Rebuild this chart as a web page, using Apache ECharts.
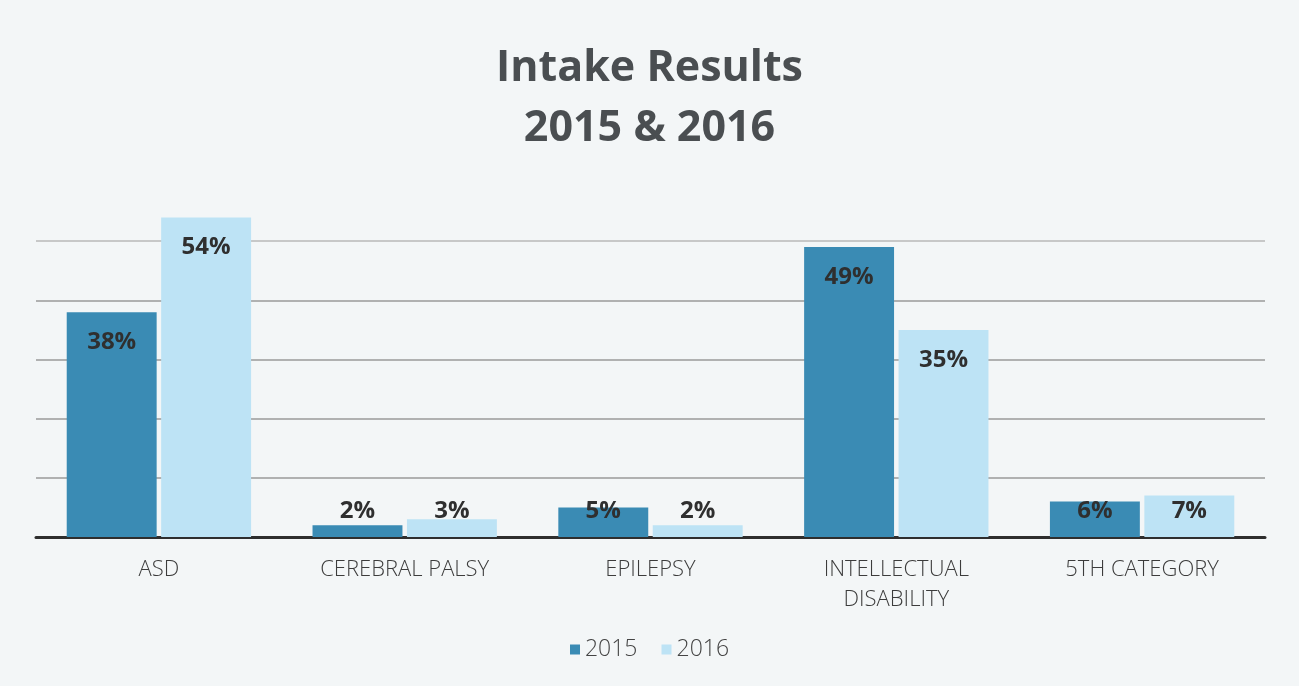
<!DOCTYPE html>
<html>
<head>
<meta charset="utf-8">
<title>Intake Results 2015 & 2016</title>
<script src="https://cdn.jsdelivr.net/npm/echarts@6/dist/echarts.min.js"></script>
<style>
  html, body { margin: 0; padding: 0; background: #f3f6f7; }
  #chart { width: 1299px; height: 686px; }
</style>
</head>
<body>
<div id="chart"></div>
<script>
var categories = ["ASD", "CEREBRAL PALSY", "EPILEPSY", "INTELLECTUAL\nDISABILITY", "5TH CATEGORY"];
var seriesNames = ["2015", "2016"];
var values2015 = [38, 2, 5, 49, 6];
var values2016 = [54, 3, 2, 35, 7];
var yTicks = [0, 10, 20, 30, 40, 50, 60];

// small bars get their label just above the axis, tall ones inside the top
function withLabels(values) {
  return values.map(function (v) {
    return {
      value: v,
      label: v >= 10
        ? { position: "insideTop", distance: 18 }
        : { position: "insideBottom", distance: 14 }
    };
  });
}

var chart = echarts.init(document.getElementById("chart"));
chart.setOption({
  animation: false,
  backgroundColor: "#f3f6f7",
  title: {
    text: "Intake Results\n2015 & 2016",
    left: "center",
    top: 34,
    textStyle: {
      fontFamily: "Open Sans",
      fontWeight: "bold",
      fontSize: 43,
      lineHeight: 60,
      color: "#4a4e51"
    }
  },
  legend: {
    data: seriesNames,
    bottom: 20,
    left: "center",
    icon: "rect",
    itemWidth: 10,
    itemHeight: 10,
    itemGap: 24,
    textStyle: { fontFamily: "Open Sans", fontWeight: 300, fontSize: 23, color: "#444" }
  },
  grid: { left: 36, right: 34, top: 182, bottom: 149, containLabel: false },
  xAxis: {
    type: "category",
    data: categories,
    axisLine: { show: true, lineStyle: { color: "#2e2e2e", width: 3 } },
    axisTick: { show: false },
    axisLabel: {
      margin: 18,
      fontFamily: "Open Sans",
      fontWeight: 300,
      fontSize: 22,
      lineHeight: 30,
      color: "#3c3c3c"
    }
  },
  yAxis: {
    type: "value",
    min: yTicks[0],
    max: yTicks[yTicks.length - 1],
    interval: 10,
    axisLine: { show: false },
    axisTick: { show: false },
    axisLabel: { show: false },
    splitLine: {
      show: true,
      lineStyle: {
        color: ["#9a9a9a", "#9a9a9a", "#9a9a9a", "#9a9a9a", "#9a9a9a", "#b8b8b8", "rgba(0,0,0,0)"],
        width: 1.5
      }
    }
  },
  series: [
    {
      name: seriesNames[0],
      type: "bar",
      data: withLabels(values2015),
      barCategoryGap: "25%",
      barGap: "5%",
      itemStyle: { color: "#3a8bb4" },
      label: {
        show: true,
        formatter: "{c}%",
        fontFamily: "Open Sans",
        fontWeight: "bold",
        fontSize: 24,
        color: "#2f2f2f"
      }
    },
    {
      name: seriesNames[1],
      type: "bar",
      data: withLabels(values2016),
      barCategoryGap: "25%",
      barGap: "5%",
      itemStyle: { color: "#bde3f5" },
      label: {
        show: true,
        formatter: "{c}%",
        fontFamily: "Open Sans",
        fontWeight: "bold",
        fontSize: 24,
        color: "#2f2f2f"
      }
    }
  ]
});
</script>
</body>
</html>
